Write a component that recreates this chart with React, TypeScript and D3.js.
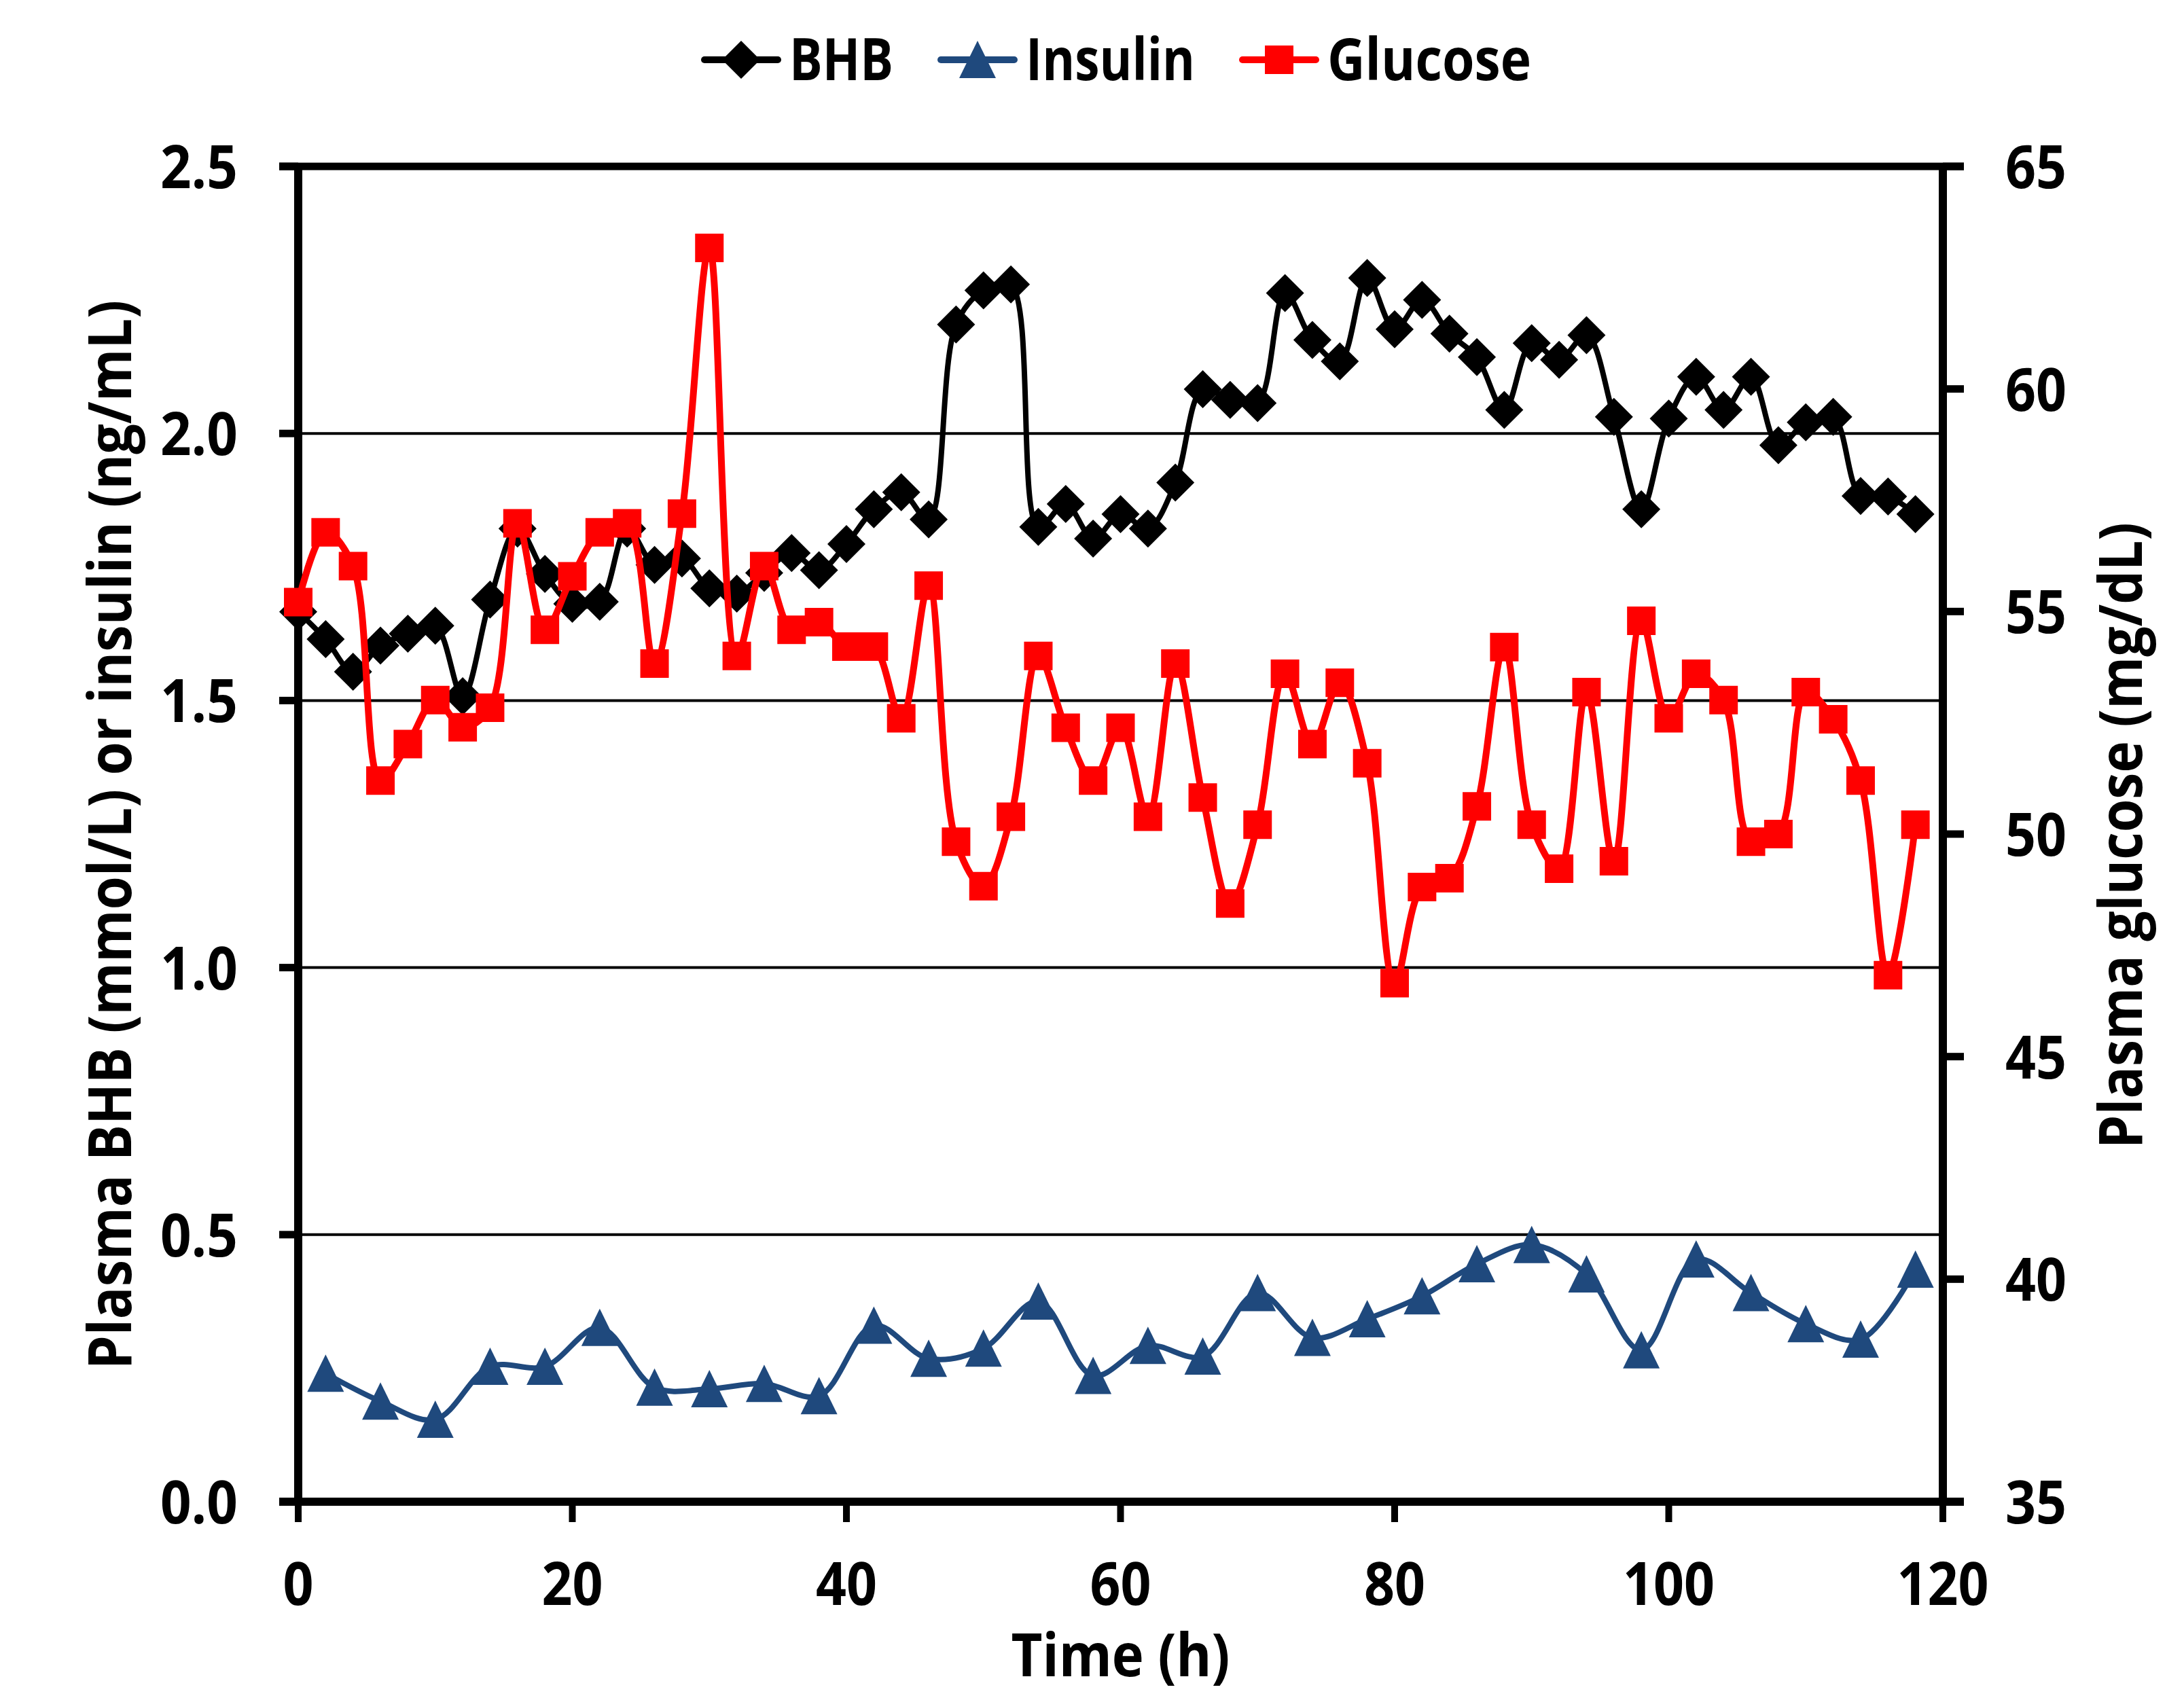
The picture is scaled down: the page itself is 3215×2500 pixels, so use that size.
import React from 'react';
import * as d3 from 'd3';

// Sampling times (h)
const bhbHours = [0, 2, 4, 6, 8, 10, 12, 14, 16, 18, 20, 22, 24, 26, 28, 30, 32, 34, 36, 38, 40, 42, 44, 46, 48, 50, 52, 54, 56, 58, 60, 62, 64, 66, 68, 70, 72, 74, 76, 78, 80, 82, 84, 86, 88, 90, 92, 94, 96, 98, 100, 102, 104, 106, 108, 110, 112, 114, 116, 118];
const glucoseHours = [0, 2, 4, 6, 8, 10, 12, 14, 16, 18, 20, 22, 24, 26, 28, 30, 32, 34, 36, 38, 40, 42, 44, 46, 48, 50, 52, 54, 56, 58, 60, 62, 64, 66, 68, 70, 72, 74, 76, 78, 80, 82, 84, 86, 88, 90, 92, 94, 96, 98, 100, 102, 104, 106, 108, 110, 112, 114, 116, 118];
const insulinHours = [2, 6, 10, 14, 18, 22, 26, 30, 34, 38, 42, 46, 50, 54, 58, 62, 66, 70, 74, 78, 82, 86, 90, 94, 98, 102, 106, 110, 114, 118];

// Plasma BHB (mmol/L), left axis
const bhbValues = [1.666, 1.615, 1.554, 1.603, 1.625, 1.640, 1.508, 1.689, 1.822, 1.737, 1.681, 1.685, 1.822, 1.754, 1.766, 1.710, 1.700, 1.739, 1.776, 1.744, 1.793, 1.858, 1.890, 1.839, 2.204, 2.268, 2.279, 1.825, 1.868, 1.803, 1.849, 1.822, 1.908, 2.083, 2.063, 2.057, 2.263, 2.175, 2.135, 2.291, 2.195, 2.250, 2.187, 2.143, 2.044, 2.169, 2.138, 2.184, 2.031, 1.858, 2.028, 2.106, 2.044, 2.106, 1.978, 2.021, 2.031, 1.883, 1.882, 1.849];

// Plasma insulin (ng/mL), left axis
const insulinValues = [0.240, 0.188, 0.154, 0.253, 0.253, 0.326, 0.214, 0.211, 0.221, 0.198, 0.330, 0.268, 0.287, 0.375, 0.236, 0.292, 0.272, 0.391, 0.307, 0.342, 0.385, 0.445, 0.481, 0.426, 0.284, 0.454, 0.391, 0.333, 0.304, 0.435];

// Plasma glucose (mg/dL), right axis
const glucoseValues = [55.21, 56.78, 56.02, 51.20, 52.02, 53.01, 52.40, 52.84, 56.98, 54.59, 55.79, 56.78, 56.98, 53.83, 57.20, 63.17, 54.00, 56.02, 54.59, 54.76, 54.21, 54.21, 52.60, 55.58, 49.83, 48.83, 50.39, 54.00, 52.39, 51.20, 52.39, 50.39, 53.83, 50.82, 48.44, 50.21, 53.60, 52.02, 53.40, 51.59, 46.65, 48.81, 49.01, 50.62, 54.20, 50.21, 49.22, 53.19, 49.39, 54.79, 52.60, 53.60, 53.01, 49.83, 50.00, 53.19, 52.58, 51.20, 46.83, 50.21];

const leftTicks = [0, 0.5, 1, 1.5, 2, 2.5];
const rightTicks = [35, 40, 45, 50, 55, 60, 65];
const timeTicks = [0, 20, 40, 60, 80, 100, 120];
const gridValues = [0.5, 1, 1.5, 2];

const seriesNames = ['BHB', 'Insulin', 'Glucose'];
const seriesColors = ['#000000', '#1F497D', '#FF0000'];

const FONT = "'Open Sans', 'Liberation Sans', sans-serif";

// Marker shapes (Excel style)
const diamondPath = 'M0,-28L28,0L0,28L-28,0Z';
const trianglePath = 'M0,-28L27,27L-27,27Z';
const squarePath = 'M-21,-21L21,-21L21,21L-21,21Z';
const markerPaths = [diamondPath, trianglePath, squarePath];
const lineWidths = [8, 8, 10];

// narrower, Calibri-like tick label widths
const labelWidth = (s: string) => s.replace(/[^0-9]/g, '').length * 45 + s.replace(/[0-9]/g, '').length * 24;

export default function App() {
  // Vars for dimensions
  const width = 3215;
  const height = 2500;
  const margin = { top: 245, right: 355, bottom: 289, left: 439 };
  const innerRight = width - margin.right;
  const innerBottom = height - margin.bottom;
  const tickLen = 28;

  // Create scales
  const xScale = d3.scaleLinear().domain([0, 120]).range([margin.left, innerRight]);
  const yLeft = d3.scaleLinear().domain([0, 2.5]).range([innerBottom, margin.top]);
  const yRight = d3.scaleLinear().domain([35, 65]).range([innerBottom, margin.top]);

  const curve = d3.curveCatmullRom.alpha(0.5);
  const makeLine = (xs: number[], ys: number[], y: d3.ScaleLinear<number, number>) =>
    d3.line<number>()
      .x((_, i) => xScale(xs[i]))
      .y((v) => y(v))
      .curve(curve)(ys) || '';

  const series = [
    { xs: bhbHours, ys: bhbValues, scale: yLeft },
    { xs: insulinHours, ys: insulinValues, scale: yLeft },
    { xs: glucoseHours, ys: glucoseValues, scale: yRight },
  ];

  const fmtLeft = d3.format('.1f');

  // Legend layout
  const legendTextLengths = [153, 249, 300];
  let cursor = 1037;
  const legendX = legendTextLengths.map((len) => {
    const x0 = cursor;
    cursor = x0 + 125 + len + 70;
    return x0;
  });

  const tickText = (s: string) => ({
    fontFamily: FONT,
    fontWeight: 700,
    fontSize: 88,
    textLength: labelWidth(s),
    lengthAdjust: 'spacingAndGlyphs',
  });

  return (
    <svg
      width={width}
      height={height}
      viewBox={`0 0 ${width} ${height}`}
      style={{ position: 'absolute', left: 0, top: 0, background: '#fff' }}
    >
      <rect x={0} y={0} width={width} height={height} fill="#fff" />

      {/* Gridlines */}
      {gridValues.map((v) => (
        <line key={v} x1={margin.left} x2={innerRight} y1={yLeft(v)} y2={yLeft(v)} stroke="#000" strokeWidth={4} />
      ))}

      {/* Left axis ticks and labels */}
      {leftTicks.map((v) => (
        <g key={`l${v}`}>
          <line x1={margin.left - tickLen} x2={margin.left} y1={yLeft(v)} y2={yLeft(v)} stroke="#000" strokeWidth={11} />
          <text x={350} y={yLeft(v) + 32} textAnchor="end" {...tickText(fmtLeft(v))}>
            {fmtLeft(v)}
          </text>
        </g>
      ))}

      {/* Right axis ticks and labels */}
      {rightTicks.map((v) => (
        <g key={`r${v}`}>
          <line x1={innerRight} x2={innerRight + tickLen + 3} y1={yRight(v)} y2={yRight(v)} stroke="#000" strokeWidth={11} />
          <text x={2952} y={yRight(v) + 32} textAnchor="start" {...tickText(String(v))}>
            {v}
          </text>
        </g>
      ))}

      {/* Bottom axis ticks and labels */}
      {timeTicks.map((v) => (
        <g key={`b${v}`}>
          <line x1={xScale(v)} x2={xScale(v)} y1={innerBottom} y2={innerBottom + 30} stroke="#000" strokeWidth={10} />
          <text x={xScale(v)} y={2363} textAnchor="middle" {...tickText(String(v))}>
            {v}
          </text>
        </g>
      ))}

      {/* Frame: left, right, top, bottom */}
      <line x1={margin.left} x2={margin.left} y1={margin.top} y2={innerBottom} stroke="#000" strokeWidth={12} />
      <line x1={innerRight} x2={innerRight} y1={margin.top} y2={innerBottom} stroke="#000" strokeWidth={12} />
      <line x1={margin.left - tickLen} x2={innerRight + tickLen + 3} y1={margin.top} y2={margin.top} stroke="#000" strokeWidth={11} />
      <line x1={margin.left - tickLen} x2={innerRight + tickLen + 3} y1={innerBottom} y2={innerBottom} stroke="#000" strokeWidth={12} />

      {/* Series lines and markers */}
      {series.map((s, si) => (
        <g key={seriesNames[si]}>
          <path
            d={makeLine(s.xs, s.ys, s.scale)}
            fill="none"
            stroke={seriesColors[si]}
            strokeWidth={lineWidths[si]}
            strokeLinejoin="round"
          />
          {s.ys.map((v, i) => (
            <path
              key={i}
              d={markerPaths[si]}
              transform={`translate(${xScale(s.xs[i])},${s.scale(v)})`}
              fill={seriesColors[si]}
            />
          ))}
        </g>
      ))}

      {/* Axis titles */}
      <text
        transform={`translate(193,${(margin.top + innerBottom) / 2 + 1}) rotate(-90)`}
        textAnchor="middle"
        fontFamily={FONT}
        fontWeight={700}
        fontSize={88}
        textLength={1574}
        lengthAdjust="spacingAndGlyphs"
      >
        Plasma BHB (mmol/L) or insulin (ng/mL)
      </text>
      <text
        transform={`translate(3153,${(margin.top + innerBottom) / 2 + 2}) rotate(-90)`}
        textAnchor="middle"
        fontFamily={FONT}
        fontWeight={700}
        fontSize={88}
        textLength={922}
        lengthAdjust="spacingAndGlyphs"
      >
        Plasma glucose (mg/dL)
      </text>
      <text
        x={xScale(60)}
        y={2468}
        textAnchor="middle"
        fontFamily={FONT}
        fontWeight={700}
        fontSize={88}
        textLength={322}
        lengthAdjust="spacingAndGlyphs"
      >
        Time (h)
      </text>

      {/* Legend */}
      {seriesNames.map((name, i) => (
        <g key={`lg${name}`}>
          <line x1={legendX[i]} x2={legendX[i] + 108} y1={88} y2={88} stroke={seriesColors[i]} strokeWidth={10} strokeLinecap="round" />
          <path d={markerPaths[i]} transform={`translate(${legendX[i] + 54},88)`} fill={seriesColors[i]} />
          <text
            x={legendX[i] + 125}
            y={118}
            fontFamily={FONT}
            fontWeight={700}
            fontSize={86}
            textLength={legendTextLengths[i]}
            lengthAdjust="spacingAndGlyphs"
          >
            {name}
          </text>
        </g>
      ))}
    </svg>
  );
}
